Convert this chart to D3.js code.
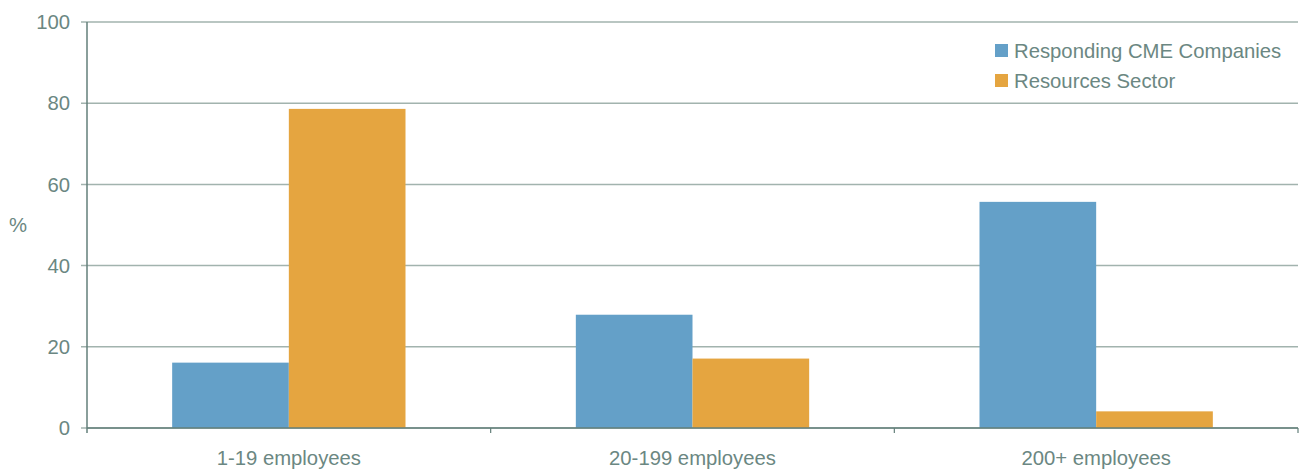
<!DOCTYPE html>
<html>
<head>
<meta charset="utf-8">
<script src="https://cdn.jsdelivr.net/npm/d3@7"></script>
<style>
html,body{margin:0;padding:0;background:#fff;}
svg{display:block;font-family:"Liberation Sans",Arial,sans-serif;}
</style>
</head>
<body>
<svg id="chart" width="1305" height="469"></svg>
<script>
const categories = ["1-19 employees", "20-199 employees", "200+ employees"];
const seriesNames = ["Responding CME Companies", "Resources Sector"];
const cmeValues = [16.1, 27.9, 55.7];
const resourcesValues = [78.6, 17.1, 4.1];
const yTicks = [0, 20, 40, 60, 80, 100];
const colors = ["#64a0c8", "#e5a540"];

const svg = d3.select("#chart");
const m = {left: 87, right: 7, top: 22, bottom: 41};
const W = 1305, H = 469;
const x0 = d3.scaleBand().domain(categories).range([m.left, W - m.right]).paddingInner(0).paddingOuter(0);
const x1 = d3.scaleBand().domain(seriesNames).range([0, x0.bandwidth()]).paddingInner(0).paddingOuter(0.73);
const y = d3.scaleLinear().domain([0, 100]).range([H - m.bottom, m.top]);
const textCol = "#6b8782";
const gridCol = "#a2b3ae";
const axisCol = "#637f7a";
const fs = 20.3;

// gridlines
svg.append("g").selectAll("line").data(yTicks).join("line")
  .attr("x1", m.left - 6).attr("x2", W - m.right)
  .attr("y1", d => y(d)).attr("y2", d => y(d))
  .attr("stroke", gridCol).attr("stroke-width", 1.5);

// y labels
svg.append("g").selectAll("text").data(yTicks).join("text")
  .attr("x", 70).attr("y", d => y(d)).attr("dy", "0.35em")
  .attr("text-anchor", "end").attr("font-size", fs).attr("fill", textCol)
  .text(d => d);

// bars
const data = categories.map((c, i) => ({cat: c, vals: [cmeValues[i], resourcesValues[i]]}));
svg.append("g").selectAll("g").data(data).join("g")
  .attr("transform", d => `translate(${x0(d.cat)},0)`)
  .selectAll("rect").data(d => d.vals.map((v, j) => ({s: seriesNames[j], v, j})))
  .join("rect")
  .attr("x", d => x1(d.s)).attr("width", x1.bandwidth())
  .attr("y", d => y(d.v)).attr("height", d => y(0) - y(d.v))
  .attr("fill", d => colors[d.j]);

// axis lines
svg.append("line").attr("x1", m.left).attr("x2", m.left).attr("y1", m.top).attr("y2", y(0) + 5)
  .attr("stroke", axisCol).attr("stroke-width", 1.5);
svg.append("line").attr("x1", m.left).attr("x2", W - m.right).attr("y1", y(0)).attr("y2", y(0))
  .attr("stroke", axisCol).attr("stroke-width", 1.5);
const catTicks = categories.map(c => x0(c) + x0.bandwidth());
svg.append("g").selectAll("line").data(catTicks).join("line")
  .attr("x1", d => d).attr("x2", d => d).attr("y1", y(0)).attr("y2", y(0) + 5)
  .attr("stroke", axisCol).attr("stroke-width", 1.2);

// category labels
svg.append("g").selectAll("text").data(categories).join("text")
  .attr("x", d => x0(d) + x0.bandwidth() / 2).attr("y", 465)
  .attr("text-anchor", "middle").attr("font-size", fs).attr("fill", textCol)
  .text(d => d);

// % label
svg.append("text").attr("x", 18).attr("y", 232).attr("text-anchor", "middle")
  .attr("font-size", fs).attr("fill", textCol).text("%");

// legend
const leg = svg.append("g").attr("transform", "translate(995,44)");
seriesNames.forEach((s, i) => {
  const g = leg.append("g").attr("transform", `translate(0,${i * 30})`);
  g.append("rect").attr("x", 0).attr("y", 0).attr("width", 13).attr("height", 13).attr("fill", colors[i]);
  g.append("text").attr("x", 19).attr("y", 13.5).attr("font-size", fs).attr("fill", textCol).text(s);
});
</script>
</body>
</html>
